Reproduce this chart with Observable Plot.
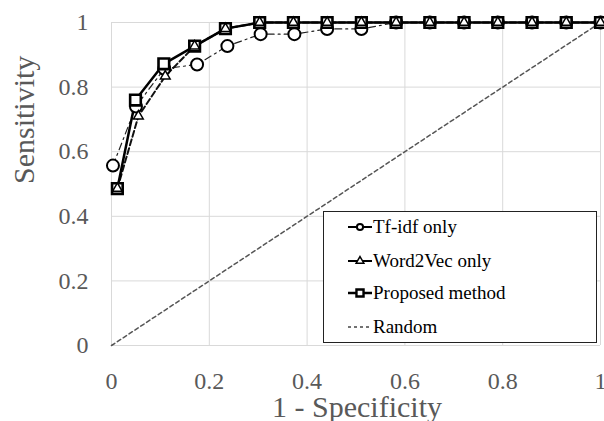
<!DOCTYPE html>
<html>
<head>
<meta charset="utf-8">
<script src="https://cdn.jsdelivr.net/npm/d3@7"></script>
<script src="https://cdn.jsdelivr.net/npm/@observablehq/plot@0.6"></script>
<style>
  html, body { margin: 0; padding: 0; background: #fff; }
  #wrap { position: relative; width: 604px; height: 421px; font-family: 'Times New Roman', Tinos, 'Liberation Serif', serif; }
  #legend { position: absolute; left: 323px; top: 211px; width: 274px; height: 132px; box-sizing: border-box; border: 1px solid #222; background: #fff; }
  .entry { position: absolute; left: 24px; height: 24px; display: flex; align-items: center; font-size: 19px; color: #000; font-family: 'Times New Roman', Tinos, 'Liberation Serif', serif; }
  .entry svg { display: block; margin-right: 1px; }
</style>
</head>
<body>
<div id="wrap"><div id="legend"></div></div>
<script>
// ---- data ----
const tfidfX = [0.003, 0.05, 0.108, 0.175, 0.237, 0.305, 0.374, 0.441, 0.511, 0.582, 0.651, 0.721, 0.79, 0.86, 0.93, 1.0];
const tfidfY = [0.557, 0.74, 0.857, 0.87, 0.927, 0.964, 0.964, 0.98, 0.98, 1, 1, 1, 1, 1, 1, 1];
const w2vX = [0.012, 0.055, 0.11, 0.17, 0.233, 0.303, 0.372, 0.441, 0.511, 0.582, 0.651, 0.721, 0.79, 0.86, 0.93, 1.0];
const w2vY = [0.486, 0.71, 0.834, 0.927, 0.981, 1, 1, 1, 1, 1, 1, 1, 1, 1, 1, 1];
const propX = [0.012, 0.049, 0.107, 0.17, 0.233, 0.303, 0.372, 0.441, 0.511, 0.582, 0.651, 0.721, 0.79, 0.86, 0.93, 1.0];
const propY = [0.486, 0.76, 0.872, 0.927, 0.981, 1, 1, 1, 1, 1, 1, 1, 1, 1, 1, 1];
const randomX = [0, 1];
const randomY = [0, 1];
const ticks = [0, 0.2, 0.4, 0.6, 0.8, 1];
const seriesNames = ["Tf-idf only", "Word2Vec only", "Proposed method", "Random"];
const xTitle = "1 - Specificity";
const yTitle = "Sensitivity";

const toRows = (xs, ys) => xs.map((x, i) => ({x, y: ys[i]}));
const tfidf = toRows(tfidfX, tfidfY);
const w2v = toRows(w2vX, w2vY);
const prop = toRows(propX, propY);
const rnd = toRows(randomX, randomY);

const font = "Times New Roman";
const gray = "#595959";

const chart = Plot.plot({
  width: 604,
  height: 421,
  marginLeft: 111,
  marginRight: 4,
  marginTop: 22,
  marginBottom: 76,
  style: {fontFamily: font, background: "transparent", overflow: "visible"},
  x: {domain: [0, 1]},
  y: {domain: [0, 1]},
  marks: [
    Plot.gridX(ticks, {stroke: "#d9d9d9", strokeOpacity: 1, strokeWidth: 1}),
    Plot.gridY(ticks, {stroke: "#d9d9d9", strokeOpacity: 1, strokeWidth: 1}),
    Plot.axisX(ticks, {tickSize: 0, tickPadding: 26, fontSize: 24, fill: gray, tickFormat: d => String(d), label: null, fontFamily: font}),
    Plot.axisY(ticks, {tickSize: 0, tickPadding: 23, fontSize: 24, fill: gray, tickFormat: d => String(d), label: null, fontFamily: font}),
    Plot.text([xTitle], {frameAnchor: "bottom", dy: 71, lineAnchor: "bottom", fontSize: 30, fill: gray, dx: 1, fontFamily: font}),
    Plot.text([yTitle], {frameAnchor: "left", dx: -87, rotate: -90, fontSize: 30, fill: gray, fontFamily: font}),
    Plot.line(rnd, {x: "x", y: "y", stroke: "#555", strokeWidth: 1.5, strokeDasharray: "4,3"}),
    Plot.line(tfidf, {x: "x", y: "y", stroke: "#222", strokeWidth: 1.2, strokeDasharray: "7,4,2,4"}),
    Plot.line(w2v, {x: "x", y: "y", stroke: "#111", strokeWidth: 2, strokeDasharray: "6,3"}),
    Plot.line(prop, {x: "x", y: "y", stroke: "#000", strokeWidth: 2.5}),
    Plot.dot(tfidf, {x: "x", y: "y", symbol: "circle", r: 6, fill: "#fff", stroke: "#000", strokeWidth: 2}),
    Plot.dot(prop, {x: "x", y: "y", symbol: "square", r: 6, fill: "#fff", stroke: "#000", strokeWidth: 2.6}),
    Plot.dot(w2v, {x: "x", y: "y", symbol: "triangle", r: 3.6, fill: "#fff", stroke: "#000", strokeWidth: 1.5})
  ]
});
document.getElementById("wrap").prepend(chart);
chart.style.position = "absolute";
chart.style.left = "0";
chart.style.top = "0";

// ---- legend ----
const legend = d3.select("#legend");
const entryTops = [3, 37, 69, 103];
const styles = [
  {sym: d3.symbolCircle, size: 30, dash: null, sw: 2, msw: 2},
  {sym: d3.symbolTriangle, size: 26, dash: null, sw: 2, msw: 1.5},
  {sym: d3.symbolSquare, size: 50, dash: null, sw: 2.5, msw: 2.4},
  {sym: null, size: 0, dash: "3,3", sw: 1.3, msw: 0}
];
seriesNames.forEach((name, i) => {
  const e = legend.append("div").attr("class", "entry").style("top", entryTops[i] + "px");
  const svg = e.append("svg").attr("width", 24).attr("height", 24);
  const st = styles[i];
  svg.append("line").attr("x1", 0).attr("x2", 24).attr("y1", 12).attr("y2", 12)
    .attr("stroke", i === 3 ? "#444" : "#000").attr("stroke-width", st.sw)
    .attr("stroke-dasharray", st.dash);
  if (st.sym) {
    svg.append("path").attr("d", d3.symbol(st.sym, st.size)())
      .attr("transform", "translate(12,12)")
      .attr("fill", "#fff").attr("stroke", "#000").attr("stroke-width", st.msw);
  }
  e.append("span").text(name);
});
</script>
</body>
</html>
